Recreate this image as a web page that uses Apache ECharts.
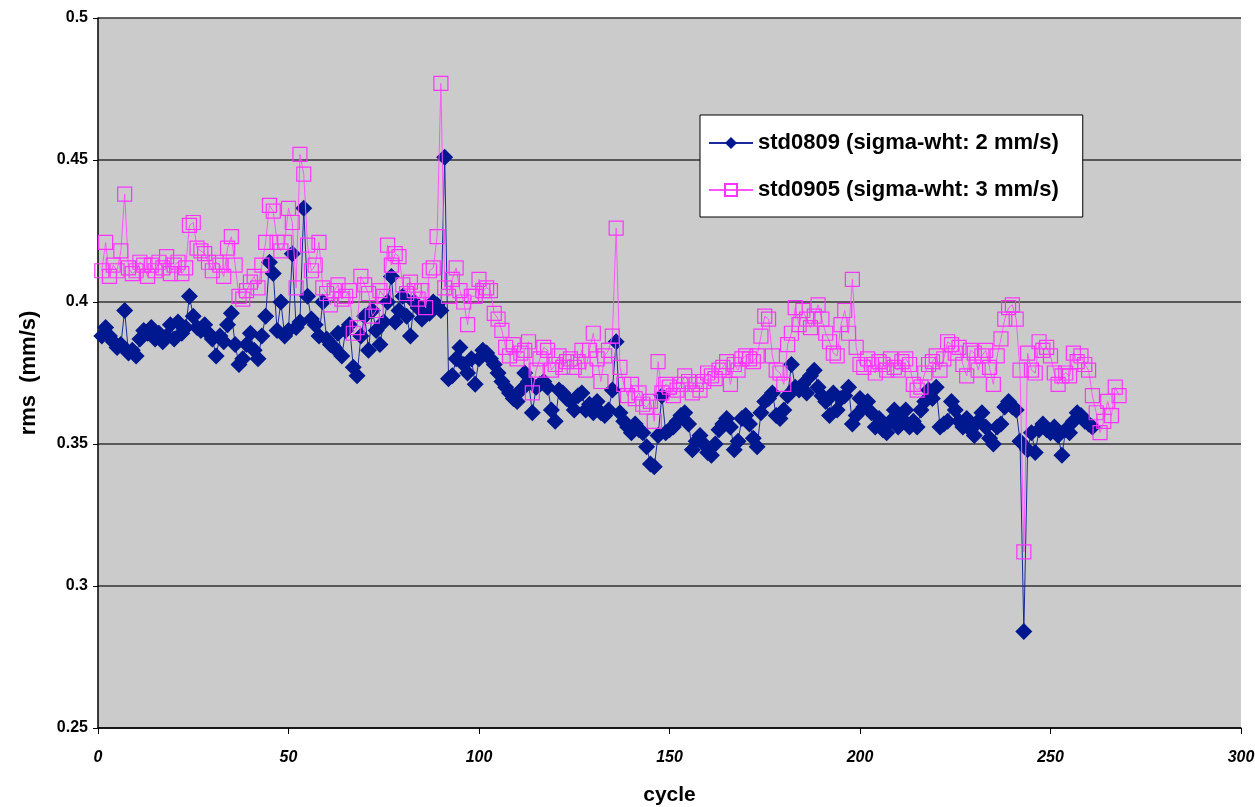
<!DOCTYPE html>
<html>
<head>
<meta charset="utf-8">
<script src="https://cdn.jsdelivr.net/npm/echarts@6/dist/echarts.min.js"></script>
<style>
  html, body { margin: 0; padding: 0; background: #fff; }
  #chart { width: 1255px; height: 807px; }
</style>
</head>
<body>
<div id="chart"></div>
<script>
// tick values
var xTicks = [0, 50, 100, 150, 200, 250, 300];
var yTicks = [0.25, 0.3, 0.35, 0.4, 0.45, 0.5];

var seriesNames = ['std0809 (sigma-wht: 2 mm/s)', 'std0905 (sigma-wht: 3 mm/s)'];

// rms per cycle, starting at cycle 1
var std0809 = [
  0.388, 0.391, 0.388, 0.386, 0.384, 0.385, 0.397, 0.382, 0.383, 0.381,
  0.387, 0.390, 0.389, 0.391, 0.387, 0.389, 0.386, 0.388, 0.392, 0.387,
  0.393, 0.389, 0.391, 0.402, 0.395, 0.391, 0.390, 0.392, 0.389, 0.387,
  0.381, 0.388, 0.386, 0.392, 0.396, 0.385, 0.378, 0.380, 0.385, 0.389,
  0.383, 0.380, 0.388, 0.395, 0.414, 0.410, 0.390, 0.400, 0.388, 0.390,
  0.417, 0.391, 0.393, 0.433, 0.402, 0.394, 0.392, 0.388, 0.400, 0.387,
  0.385, 0.384, 0.389, 0.381, 0.390, 0.392, 0.377, 0.374, 0.388, 0.395,
  0.383, 0.397, 0.390, 0.385, 0.393, 0.400, 0.409, 0.393, 0.397, 0.402,
  0.395, 0.388, 0.400, 0.398, 0.394, 0.398, 0.396, 0.400, 0.399, 0.397,
  0.451, 0.373, 0.374, 0.380, 0.384, 0.378, 0.375, 0.380, 0.371, 0.380,
  0.383, 0.382, 0.380, 0.378, 0.375, 0.372, 0.370, 0.368, 0.366, 0.365,
  0.369, 0.375, 0.372, 0.361, 0.370, 0.371, 0.372, 0.370, 0.362, 0.358,
  0.369, 0.368, 0.366, 0.365, 0.362, 0.367, 0.368, 0.362, 0.364, 0.361,
  0.365, 0.361, 0.360, 0.362, 0.369, 0.386, 0.361, 0.358, 0.356, 0.354,
  0.357, 0.355, 0.354, 0.349, 0.343, 0.342, 0.353, 0.367, 0.354, 0.355,
  0.356, 0.358, 0.360, 0.361, 0.357, 0.348, 0.351, 0.353, 0.350, 0.347,
  0.346, 0.350, 0.355, 0.357, 0.359, 0.356, 0.348, 0.351, 0.359, 0.360,
  0.357, 0.352, 0.349, 0.361, 0.365, 0.366, 0.368, 0.360, 0.359, 0.362,
  0.367, 0.378, 0.370, 0.369, 0.371, 0.368, 0.374, 0.376, 0.370, 0.367,
  0.365, 0.360, 0.368, 0.362, 0.366, 0.367, 0.370, 0.357, 0.360, 0.366,
  0.363, 0.365, 0.361, 0.356, 0.359, 0.355, 0.354, 0.358, 0.362, 0.356,
  0.359, 0.362, 0.356, 0.358, 0.356, 0.362, 0.365, 0.369, 0.366, 0.370,
  0.356, 0.357, 0.358, 0.365, 0.362, 0.358, 0.356, 0.359, 0.355, 0.353,
  0.358, 0.361, 0.356, 0.352, 0.350, 0.356, 0.357, 0.363, 0.365, 0.363,
  0.362, 0.351, 0.284, 0.348, 0.354, 0.347, 0.355, 0.357, 0.355, 0.354,
  0.356, 0.353, 0.346, 0.355, 0.354, 0.358, 0.361, 0.360, 0.358, 0.357,
  0.356
];

var std0905 = [
  0.411, 0.421, 0.409, 0.413, 0.411, 0.418, 0.438, 0.412, 0.410, 0.411,
  0.414, 0.413, 0.409, 0.413, 0.411, 0.414, 0.412, 0.416, 0.410, 0.413,
  0.414, 0.410, 0.412, 0.427, 0.428, 0.419, 0.418, 0.417, 0.414, 0.411,
  0.414, 0.413, 0.409, 0.419, 0.423, 0.413, 0.402, 0.401, 0.404, 0.407,
  0.409, 0.405, 0.413, 0.421, 0.434, 0.432, 0.421, 0.418, 0.421, 0.433,
  0.428, 0.405, 0.452, 0.445, 0.420, 0.411, 0.413, 0.421, 0.405, 0.403,
  0.399, 0.404, 0.406, 0.401, 0.402, 0.404, 0.389, 0.391, 0.409, 0.406,
  0.403, 0.395, 0.397, 0.404, 0.402, 0.420, 0.413, 0.417, 0.416, 0.406,
  0.403, 0.407, 0.404, 0.401, 0.404, 0.398, 0.411, 0.412, 0.423, 0.477,
  0.405, 0.402, 0.408, 0.412, 0.404, 0.400, 0.392, 0.402, 0.402, 0.408,
  0.404, 0.405, 0.404, 0.396, 0.394, 0.390, 0.384, 0.381, 0.385, 0.380,
  0.382, 0.383, 0.386, 0.368, 0.376, 0.380, 0.384, 0.383, 0.376, 0.378,
  0.381, 0.377, 0.379, 0.380, 0.377, 0.379, 0.383, 0.376, 0.383, 0.389,
  0.380, 0.372, 0.381, 0.383, 0.388, 0.426, 0.377, 0.371, 0.367, 0.371,
  0.366, 0.368, 0.364, 0.363, 0.365, 0.358, 0.379, 0.368, 0.371, 0.370,
  0.367, 0.369, 0.371, 0.374, 0.372, 0.368, 0.371, 0.369, 0.372, 0.375,
  0.374, 0.373, 0.376, 0.377, 0.379, 0.371, 0.378, 0.376, 0.380, 0.381,
  0.380, 0.379, 0.381, 0.388, 0.395, 0.394, 0.381, 0.376, 0.375, 0.371,
  0.385, 0.389, 0.398, 0.392, 0.397, 0.394, 0.391, 0.395, 0.399, 0.394,
  0.389, 0.386, 0.382, 0.381, 0.392, 0.397, 0.389, 0.408, 0.384, 0.378,
  0.377, 0.380, 0.378, 0.375, 0.379, 0.378, 0.376, 0.380, 0.377, 0.376,
  0.379, 0.380, 0.378, 0.371, 0.369, 0.370, 0.375, 0.378, 0.379, 0.381,
  0.376, 0.380, 0.386, 0.385, 0.382, 0.384, 0.378, 0.374, 0.383, 0.382,
  0.376, 0.381, 0.383, 0.377, 0.371, 0.381, 0.387, 0.394, 0.398, 0.399,
  0.394, 0.376, 0.312, 0.382, 0.376, 0.375, 0.386, 0.383, 0.384, 0.381,
  0.375, 0.371, 0.374, 0.375, 0.374, 0.382, 0.379, 0.381, 0.378, 0.376,
  0.367, 0.361, 0.354, 0.358, 0.365, 0.360, 0.370, 0.367
];

function toPoints(arr) {
  var out = [];
  for (var i = 0; i < arr.length; i++) {
    out.push([i + 1, arr[i]]);
  }
  return out;
}

var font = '"Liberation Sans", Arial, sans-serif';
var myChart = echarts.init(document.getElementById('chart'));

var option = {
  backgroundColor: '#ffffff',
  animation: false,
  grid: {
    left: 98, top: 18, right: 14, bottom: 79,
    outerBoundsMode: 'none',
    show: true,
    backgroundColor: '#cbcbcb',
    borderWidth: 0
  },
  legend: {
    orient: 'vertical',
    left: 700, top: 115,
    backgroundColor: '#ffffff',
    borderColor: '#000000',
    borderWidth: 1,
    padding: [17, 24, 16, 8],
    itemWidth: 44,
    itemHeight: 15,
    itemGap: 25,
    textStyle: { fontFamily: font, fontSize: 22, fontWeight: 'bold', color: '#000' },
    data: seriesNames
  },
  xAxis: {
    type: 'value',
    min: xTicks[0], max: xTicks[xTicks.length - 1], interval: 50,
    name: 'cycle',
    nameLocation: 'middle',
    nameGap: 57,
    nameTextStyle: { fontFamily: font, fontSize: 21, fontWeight: 'bold', color: '#000' },
    axisLine: { lineStyle: { color: '#000', width: 1.5 } },
    axisTick: { show: true, inside: false, length: 6, lineStyle: { color: '#000' } },
    axisLabel: { fontFamily: font, fontSize: 16, fontWeight: 'bold', fontStyle: 'italic', color: '#000', margin: 22 },
    splitLine: { show: false }
  },
  yAxis: {
    type: 'value',
    min: yTicks[0], max: yTicks[yTicks.length - 1], interval: 0.05,
    name: 'rms  (mm/s)',
    nameLocation: 'middle',
    nameGap: 58,
    nameTextStyle: { fontFamily: font, fontSize: 22, fontWeight: 'bold', color: '#000' },
    axisLine: { show: true, lineStyle: { color: '#000', width: 1.5 } },
    axisTick: { show: true, inside: false, length: 5, lineStyle: { color: '#000' } },
    axisLabel: { fontFamily: font, fontSize: 16, fontWeight: 'bold', color: '#000', margin: 10 },
    splitLine: { show: true, lineStyle: { color: '#333333', width: 1.5 } }
  },
  series: [
    {
      name: seriesNames[0],
      type: 'line',
      data: toPoints(std0809),
      symbol: 'diamond',
      symbolSize: 17,
      showAllSymbol: true,
      lineStyle: { color: '#1a2a9a', width: 1 },
      itemStyle: { color: '#00188f' },
      z: 2
    },
    {
      name: seriesNames[1],
      type: 'line',
      data: toPoints(std0905),
      symbol: 'rect',
      symbolSize: 14,
      showAllSymbol: true,
      lineStyle: { color: '#ff55ff', width: 1 },
      itemStyle: { color: 'rgba(0,0,0,0)', borderColor: '#ff33ff', borderWidth: 1.2 },
      z: 3
    }
  ]
};
myChart.setOption(option);
</script>
</body>
</html>
